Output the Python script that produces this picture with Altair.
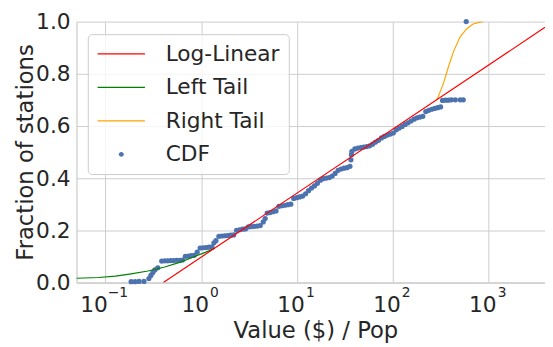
import altair as alt
import pandas as pd

FONT = "DejaVu Sans"
TEXT = "#262626"
GRID = "#cccccc"

# ---------------- data ----------------
series_names = ["Log-Linear", "Left Tail", "Right Tail", "CDF"]
series_colors = ["#ff0000", "#008000", "#ffa500", "#4c72b0"]

x_domain = [0.0501, 3860]

# log-linear fit (red)
red_x = [0.4036, 3860]
red_y = [0.0, 0.978]

# left tail (green)
green_x = [0.0501, 0.0853, 0.1276, 0.1863, 0.2786, 0.4167, 0.6085, 0.9097, 1.153, 1.393]
green_y = [0.016, 0.019, 0.024, 0.033, 0.044, 0.059, 0.078, 0.103, 0.118, 0.131]

# right tail (orange)
orange_x = [288.0, 337.6, 379.9, 427.7, 501.2, 585.9, 686.5, 791.0, 869.8]
orange_y = [0.700, 0.764, 0.827, 0.884, 0.941, 0.972, 0.991, 0.997, 1.0]

# empirical CDF (blue points)
cdf_x = [0.1863, 0.2048, 0.2252, 0.2534,
         0.2853, 0.2991, 0.3136, 0.3289, 0.3530,
         0.3880, 0.4167, 0.4473, 0.4801, 0.5156, 0.5534, 0.5941, 0.6379,
         0.6847, 0.7355, 0.7895, 0.8474,
         0.9097,
         0.9766, 1.048, 1.126, 1.208, 1.297,
         1.360, 1.426,
         1.531, 1.644, 1.765, 1.895, 2.034, 2.184,
         2.344, 2.516, 2.702, 2.901,
         3.114, 3.343, 3.589, 3.853, 4.136,
         4.441, 4.656,
         4.882, 5.242, 5.627, 6.041,
         6.485, 6.962, 7.474, 8.024, 8.615,
         9.250, 9.929, 10.66, 11.44, 12.29,
         13.19, 14.16, 15.20, 16.32, 17.52, 18.81,
         20.20, 21.68, 23.28,
         24.99, 26.83, 28.80, 30.92, 33.20, 35.64,
         36.50, 36.93, 37.36, 40.12, 43.07, 46.24, 49.64, 53.30, 57.22, 61.43,
         65.94, 70.79, 76.01, 81.60, 87.59, 94.04, 100.9,
         108.4, 116.4, 124.9, 134.1, 144.0, 154.6, 166.0,
         178.2, 191.3, 205.3,
         220.4, 236.6, 254.1, 272.8, 292.8, 314.4,
         329.6, 353.9, 379.9, 407.8, 448.3, 504.7, 541.9,
         581.8]
cdf_y = [0.003, 0.003, 0.004, 0.004,
         0.015, 0.027, 0.038, 0.048, 0.056,
         0.082, 0.083, 0.083, 0.084, 0.084, 0.085, 0.085, 0.086,
         0.100, 0.101, 0.103, 0.104,
         0.116,
         0.132, 0.133, 0.134, 0.135, 0.136,
         0.152, 0.160,
         0.177, 0.178, 0.179, 0.180, 0.181, 0.182,
         0.200, 0.202, 0.204, 0.205,
         0.213, 0.214, 0.215, 0.216, 0.218,
         0.232, 0.245,
         0.266, 0.268, 0.271, 0.274,
         0.292, 0.294, 0.296, 0.298, 0.300,
         0.322, 0.325, 0.328, 0.331, 0.340,
         0.352, 0.362, 0.370, 0.380, 0.392, 0.398,
         0.400, 0.402, 0.408,
         0.418, 0.430, 0.435, 0.438, 0.440, 0.445,
         0.470, 0.490, 0.503, 0.512, 0.515, 0.517, 0.519, 0.521, 0.524, 0.530,
         0.538, 0.545, 0.554, 0.560, 0.565, 0.569, 0.573,
         0.585, 0.592, 0.598, 0.606, 0.612, 0.619, 0.626,
         0.631, 0.634, 0.637,
         0.655, 0.660, 0.664, 0.667, 0.670, 0.673,
         0.698, 0.699, 0.699, 0.700, 0.700, 0.700, 0.700,
         1.0]

# axis ticks
x_ticks = [0.1, 1, 10, 100, 1000]
x_tick_base = ["10", "10", "10", "10", "10"]
x_tick_exp = ["\u22121", "0", "1", "2", "3"]
y_ticks = [0.0, 0.2, 0.4, 0.6, 0.8, 1.0]

# ---------------- chart ----------------
W, H = 475.5, 264.7

# legend symbols (symbol size 400 -> 1 path unit = 10 px)
LINE_SYM = "M-1,-0.072L3.8,-0.072L3.8,0.072L-1,0.072Z"
DOT_SYM = "M1.65,0A0.25,0.25,0,1,1,1.15,0A0.25,0.25,0,1,1,1.65,0Z"
series_shapes = [LINE_SYM, LINE_SYM, LINE_SYM, DOT_SYM]

xscale = alt.Scale(type="log", domain=x_domain, nice=False)
yscale = alt.Scale(domain=[0, 1], nice=False)

xaxis = alt.Axis(values=x_ticks, labels=False, grid=True,
                 title="Value ($) / Pop", titleX=242.5, titleY=56,
                 titleBaseline="alphabetic", titleAlign="center")
yaxis = alt.Axis(values=y_ticks, format=".1f", grid=True, labelPadding=6.5,
                 title="Fraction of stations", titleX=-44.5, titleY=H / 2,
                 titleAngle=270, titleBaseline="alphabetic", titleAlign="center")

cdf_df = pd.DataFrame({"x": cdf_x, "y": cdf_y, "series": ["CDF"] * len(cdf_x)})
red_df = pd.DataFrame({"x": red_x, "y": red_y})
green_df = pd.DataFrame({"x": green_x, "y": green_y})
orange_df = pd.DataFrame({"x": orange_x, "y": orange_y})
tick_df = pd.DataFrame({"v": x_ticks, "b": x_tick_base, "e": x_tick_exp})

X = alt.X("x:Q", scale=xscale, axis=xaxis)
Y = alt.Y("y:Q", scale=yscale, axis=yaxis)

legend_kw = dict(title=None, orient="none", legendX=11.5, legendY=12.7)

# legend-only layer (no rows survive the filter, legend comes from the scale domain)
legend_layer = alt.Chart(cdf_df).transform_filter("datum.y > 5").mark_point(
    filled=True, size=400, opacity=1, strokeWidth=0
).encode(
    x=X, y=Y,
    color=alt.Color("series:N",
                    scale=alt.Scale(domain=series_names, range=series_colors),
                    legend=alt.Legend(**legend_kw)),
    shape=alt.Shape("series:N",
                    scale=alt.Scale(domain=series_names, range=series_shapes),
                    legend=alt.Legend(**legend_kw)),
)

points = alt.Chart(cdf_df).mark_circle(size=28, opacity=1, color="#4c72b0").encode(x=X, y=Y)


def line_layer(df, color):
    return alt.Chart(df).mark_line(color=color, strokeWidth=1.2, clip=True).encode(x=X, y=Y)


red = line_layer(red_df, "#ff0000")
green = line_layer(green_df, "#008000")
orange = line_layer(orange_df, "#ffa500")

TX = alt.X("v:Q", scale=xscale, axis=xaxis)


def tick_text(filt, field, size, dx, yy, align):
    return alt.Chart(tick_df).transform_filter(filt).mark_text(
        align=align, baseline="alphabetic", dx=dx, font=FONT, fontSize=size, color=TEXT
    ).encode(x=TX, y=alt.value(yy), text=f"{field}:N")


tick_base_main = tick_text("datum.v >= 1", "b", 22, 8.0, H + 30, "right")
tick_exp_main = tick_text("datum.v >= 1", "e", 14, 9.0, H + 14.3, "left")
tick_base_neg = tick_text("datum.v < 1", "b", 22, 2.5, H + 30, "right")
tick_exp_neg = tick_text("datum.v < 1", "e", 14, 2.5, H + 14.3, "left")

chart = alt.layer(
    legend_layer, points, green, orange, red,
    tick_base_main, tick_exp_main, tick_base_neg, tick_exp_neg,
).properties(
    width=W, height=H,
    autosize=alt.AutoSizeParams(type="none"),
    padding={"left": 69.5, "top": 11.3, "right": 0, "bottom": 63},
).configure(
    font=FONT, background="white"
).configure_view(
    strokeWidth=0
).configure_axis(
    domainColor=GRID, domainWidth=1.25, gridColor=GRID, gridWidth=1,
    ticks=False, labelFont=FONT, labelFontSize=22, labelColor=TEXT,
    titleFont=FONT, titleFontSize=23, titleColor=TEXT, titleFontWeight="normal",
).configure_legend(
    fillColor="rgba(255,255,255,0.8)", strokeColor=GRID, strokeWidth=1,
    cornerRadius=4, padding=9, labelFont=FONT, labelFontSize=22,
    labelColor=TEXT, rowPadding=12, labelOffset=48, symbolSize=400,
    symbolStrokeWidth=0,
)

chart.save("out.html", embed_options={"renderer": "svg", "actions": False})
